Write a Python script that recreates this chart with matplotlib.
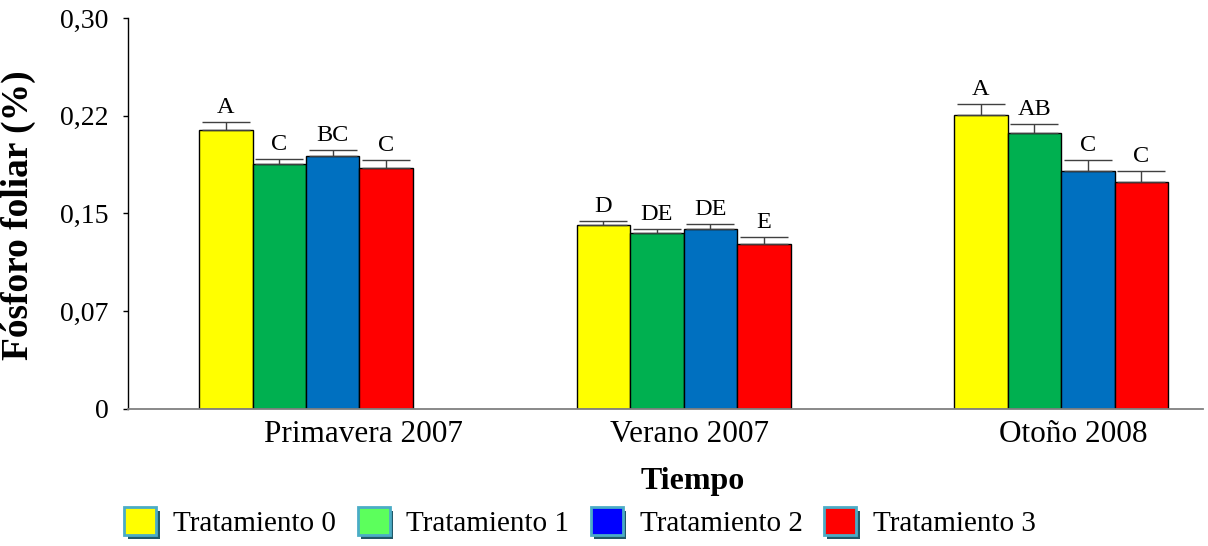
import numpy as np
import matplotlib
matplotlib.use("Agg")
import matplotlib.pyplot as plt
from matplotlib.patches import Rectangle, Patch
from matplotlib.legend_handler import HandlerBase

plt.rcParams['font.family'] = ['Liberation Serif', 'DejaVu Serif']

epocas = ["Primavera 2007", "Verano 2007", "Otoño 2008"]
tratamientos = ["Tratamiento 0", "Tratamiento 1", "Tratamiento 2", "Tratamiento 3"]

# fosforo foliar medio (%) por tratamiento, una lista por tratamiento
t0 = [0.2138, 0.1410, 0.2252]
t1 = [0.1877, 0.1348, 0.2114]
t2 = [0.1939, 0.1384, 0.1825]
t3 = [0.1849, 0.1269, 0.1738]

# error estandar (solo hacia arriba)
e0 = [0.0061, 0.0036, 0.0085]
e1 = [0.0043, 0.0033, 0.0074]
e2 = [0.0049, 0.0036, 0.0087]
e3 = [0.0064, 0.0049, 0.0087]

# letras de significancia
l0 = ["A", "D", "A"]
l1 = ["C", "DE", "AB"]
l2 = ["BC", "DE", "C"]
l3 = ["C", "E", "C"]

yticks = [0, 0.075, 0.15, 0.225, 0.30]
yticklabels = ["0", "0,07", "0,15", "0,22", "0,30"]

# posicion de los rotulos de cada epoca
label_pos = [0.151, 1.017, 2.032]

bar_colors = ["#FFFF00", "#00B050", "#0070C0", "#FF0000"]
legend_colors = ["#FFFF00", "#5CFF5C", "#0000FF", "#FF0000"]


class ShadowBox(HandlerBase):
    # cuadro con borde celeste y sombra oscura abajo a la derecha
    def create_artists(self, legend, orig_handle, xdescent, ydescent,
                       width, height, fontsize, trans):
        off = 2.5
        shadow = Rectangle((-xdescent + off, -ydescent - off), width, height,
                           facecolor="#215868", edgecolor="none", transform=trans)
        box = Rectangle((-xdescent, -ydescent), width, height,
                        facecolor=orig_handle.get_facecolor(), edgecolor="#4BACC6",
                        linewidth=2, transform=trans)
        return [shadow, box]


fig = plt.figure(figsize=(12.08, 5.46), dpi=100)
ax = fig.add_axes([128 / 1208, 1 - 409 / 546, 1075 / 1208, 391 / 546])

x = np.arange(len(epocas))
w = 0.1417
valores = [t0, t1, t2, t3]
errores = [e0, e1, e2, e3]
letras = [l0, l1, l2, l3]

for i in range(4):
    xs = x + (i - 1.5) * w
    ax.bar(xs, valores[i], w, color=bar_colors[i], edgecolor="black",
           linewidth=1, zorder=2)
    ax.errorbar(xs, valores[i], yerr=[np.zeros(3), errores[i]], fmt="none",
                ecolor="#404040", elinewidth=1, capsize=17, capthick=1, zorder=3)
    for xi, v, e, txt in zip(xs, valores[i], errores[i], letras[i]):
        ax.annotate(txt, (xi, v + e), xytext=(0, 6.5), textcoords="offset points",
                    ha="center", va="baseline", fontsize=17.5)

ax.set_xlim(-0.4715, 2.376)
ax.set_ylim(0, 0.30)
ax.set_yticks(yticks)
ax.set_yticklabels(yticklabels, fontsize=20)
ax.tick_params(axis="y", direction="out", length=3.6, width=1, pad=10.5, color="black")
ax.set_xticks(label_pos)
ax.set_xticklabels(epocas, fontsize=22.5)
ax.tick_params(axis="x", length=0, pad=8)

ax.spines["top"].set_visible(False)
ax.spines["right"].set_visible(False)
ax.spines["left"].set_color("black")
ax.spines["left"].set_linewidth(1)
ax.spines["bottom"].set_color("#808080")
ax.spines["bottom"].set_linewidth(1.3)

ax.set_xlabel("Tiempo", fontsize=23, fontweight="bold")
ax.xaxis.set_label_coords((693 - 128) / 1075, -0.148)
ax.set_ylabel("Fósforo foliar (%)", fontsize=27, fontweight="bold")
ax.yaxis.set_label_coords((36 - 128) / 1075, 0.496)

handles = [Patch(facecolor=c) for c in legend_colors]
fig.legend(handles, tratamientos, loc="center", ncol=4, frameon=False,
           bbox_to_anchor=(580 / 1208, 24 / 546), fontsize=21,
           handler_map={Patch: ShadowBox()}, handlelength=1.1, handleheight=1.1,
           handletextpad=0.57, columnspacing=0.74, borderpad=0, borderaxespad=0)

fig.savefig("out.png", dpi=100)
